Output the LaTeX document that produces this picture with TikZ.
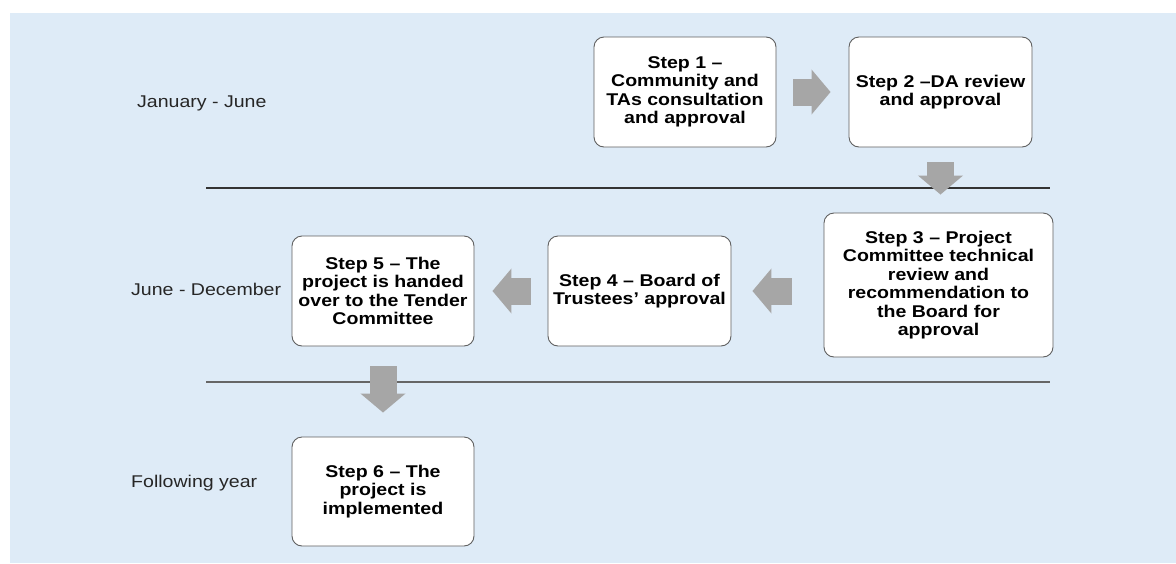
\documentclass[tikz,border=0pt]{standalone}
\usepackage{fontspec}
\setmainfont{Liberation Sans}[FakeStretch=1.15]
\usetikzlibrary{arrows.meta}
\definecolor{panel}{HTML}{DEEBF7}
\definecolor{flow}{HTML}{A6A6A6}
\definecolor{boxline}{HTML}{606060}
\tikzset{
  stepbox/.style={draw=boxline, line width=0.9pt, fill=white, rounded corners=10pt,
    align=center, font=\bfseries\fontsize{17}{18.5}\selectfont, inner sep=0pt},
  period/.style={anchor=west, inner sep=0pt, font=\fontsize{17}{18}\selectfont, text=black!85},
  divider/.style={line width=1.6pt},
  fatarrow/.style={draw=flow, line width=27pt,
    -{Triangle[width=44pt,length=19pt]}}
}
\begin{document}
\begin{tikzpicture}[x=1pt,y=-1pt]
\useasboundingbox (0,0) rectangle (1176,563);
% panel
\fill[panel] (10,13) rectangle (1176,563);

% period dividers
\draw[divider, draw=black!80] (206,188) -- (1050,188);
\draw[divider, draw=black!60] (206,382) -- (1050,382);

% period labels
\node[period] (p1) at (137,103) {January - June};
\node[period] (p2) at (131,289) {June - December};
\node[period] (p3) at (131,483) {Following year};

% steps
\node[stepbox, minimum width=182pt, minimum height=110pt] (s1) at (685,92)
  {Step 1 --\\Community and\\TAs consultation\\and approval};
\node[stepbox, minimum width=183pt, minimum height=110pt] (s2) at (940.5,92)
  {Step 2 --DA review\\and approval};
\node[stepbox, minimum width=229pt, minimum height=144pt] (s3) at (938.5,285)
  {Step 3 -- Project\\Committee technical\\review and\\recommendation to\\the Board for\\approval};
\node[stepbox, minimum width=183pt, minimum height=110pt] (s4) at (639.5,291)
  {Step 4 -- Board of\\Trustees’ approval};
\node[stepbox, minimum width=182pt, minimum height=110pt] (s5) at (383,291)
  {Step 5 -- The\\project is handed\\over to the Tender\\Committee};
\node[stepbox, minimum width=182pt, minimum height=109pt] (s6) at (383,491.5)
  {Step 6 -- The\\project is\\implemented};

% flow arrows
\draw[fatarrow, shorten <=17pt, shorten >=18pt] (s1.east) -- (s1.east -| s2.west);
\draw[fatarrow, shorten <=15pt, shorten >=18pt] (s2.south) -- (s2.south |- s3.north);
\draw[fatarrow, shorten <=32pt, shorten >=21pt] (s3.west |- s4.east) -- (s4.east);
\draw[fatarrow, shorten <=17pt, shorten >=18pt] (s4.west) -- (s5.east);
\draw[fatarrow, shorten <=20pt, shorten >=24pt] (s5.south) -- (s6.north);
\end{tikzpicture}
\end{document}
